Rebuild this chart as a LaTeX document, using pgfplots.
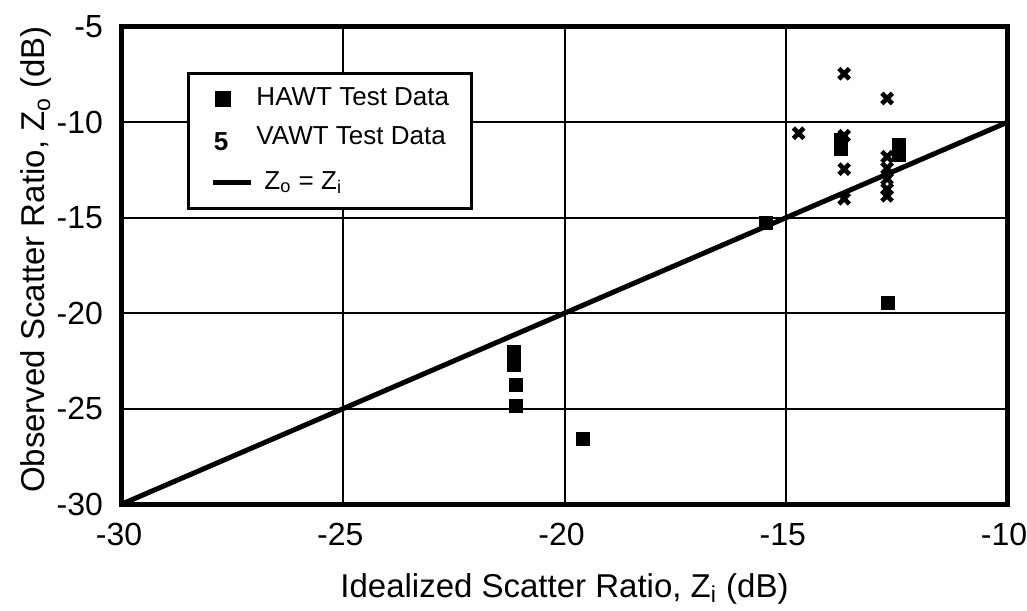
\documentclass[border=0pt]{standalone}
\usepackage{fontspec}
\setmainfont{Liberation Sans}
\usepackage{pgfplots}
\pgfplotsset{compat=1.18}
\pgfplotsset{
  sqlegend/.style={legend image code/.code={\draw[##1] plot coordinates {(5pt,0pt)};}},
  linelegend/.style={legend image code/.code={\draw[##1] (0pt,0pt) -- (19pt,0pt);}},
}
\begin{document}
\begin{tikzpicture}
\begin{axis}[
  scale only axis,
  width=442.5pt, height=238.5pt,
  xmin=-30, xmax=-10, ymin=-30, ymax=-5,
  xtick={-30,-25,-20,-15,-10},
  ytick={-30,-25,-20,-15,-10,-5},
  /pgf/number format/assume math mode=true,
  tick label style={font=\fontsize{16}{18}\selectfont},
  label style={font=\fontsize{16.5}{19}\selectfont},
  xlabel={Idealized Scatter Ratio, Z\textsubscript{i} (dB)},
  ylabel={Observed Scatter Ratio, Z\textsubscript{o} (dB)},
  xlabel style={at={([yshift=-46.5pt]axis description cs:0.5,0)}, anchor=base},
  ylabel style={at={([xshift=-38.5pt, yshift=3pt]axis description cs:0,0.5)}, anchor=base},
  xticklabel style={anchor=base, yshift=-20.5pt, xshift=-1.5pt},
  yticklabel style={xshift=-6pt},
  major tick length=0pt,
  grid=major,
  major grid style={black, line width=1pt},
  axis line style={black, line width=2.5pt},
  legend style={at={([xshift=32.5pt, yshift=-22.5pt]rel axis cs:0,1)}, anchor=north west, draw=black, line width=1.5pt,
    font=\fontsize{13}{15}\selectfont, row sep=7pt, column sep=1.5pt,
    nodes={inner sep=0pt, text height=9.5pt, text depth=3pt},
    inner xsep=11pt, inner ysep=6.5pt},
  legend cell align=left,
]
\addplot[only marks, mark=square*, mark size=3.2pt, black, sqlegend] coordinates {
  (-15.45,-15.25)
  (-13.75,-10.9) (-13.75,-11.4)
  (-12.45,-11.2) (-12.45,-11.7)
  (-12.7,-19.45)
  (-21.15,-22.0) (-21.15,-22.7) (-21.1,-23.75) (-21.1,-24.85)
  (-19.58,-26.6)
};
\addlegendentry{HAWT Test Data}
\addplot[only marks, mark=x, mark size=3.7pt, black, line width=2.3pt,
  legend image code/.code={\node[inner sep=0pt, anchor=base, font=\bfseries\fontsize{13}{15}\selectfont] at (4pt,-6pt) {5};}] coordinates {
  (-13.68,-7.45)
  (-12.71,-8.75)
  (-14.71,-10.57)
  (-13.68,-10.7)
  (-13.68,-12.45)
  (-13.68,-14.0)
  (-12.71,-11.8)
  (-12.71,-12.4)
  (-12.71,-12.95)
  (-12.71,-13.5)
  (-12.71,-13.85)
};
\addlegendentry{VAWT Test Data}
\addplot[black, line width=2.5pt, no marks, linelegend] coordinates {(-30,-30) (-10,-10)};
\addlegendentry{\hspace{4pt}Z\textsubscript{o} = Z\textsubscript{i}}
\end{axis}
\pgfresetboundingbox
\useasboundingbox ([xshift=-61pt,yshift=-53pt]current axis.south west) rectangle ([xshift=10pt,yshift=13.5pt]current axis.north east);
\end{tikzpicture}
\end{document}
